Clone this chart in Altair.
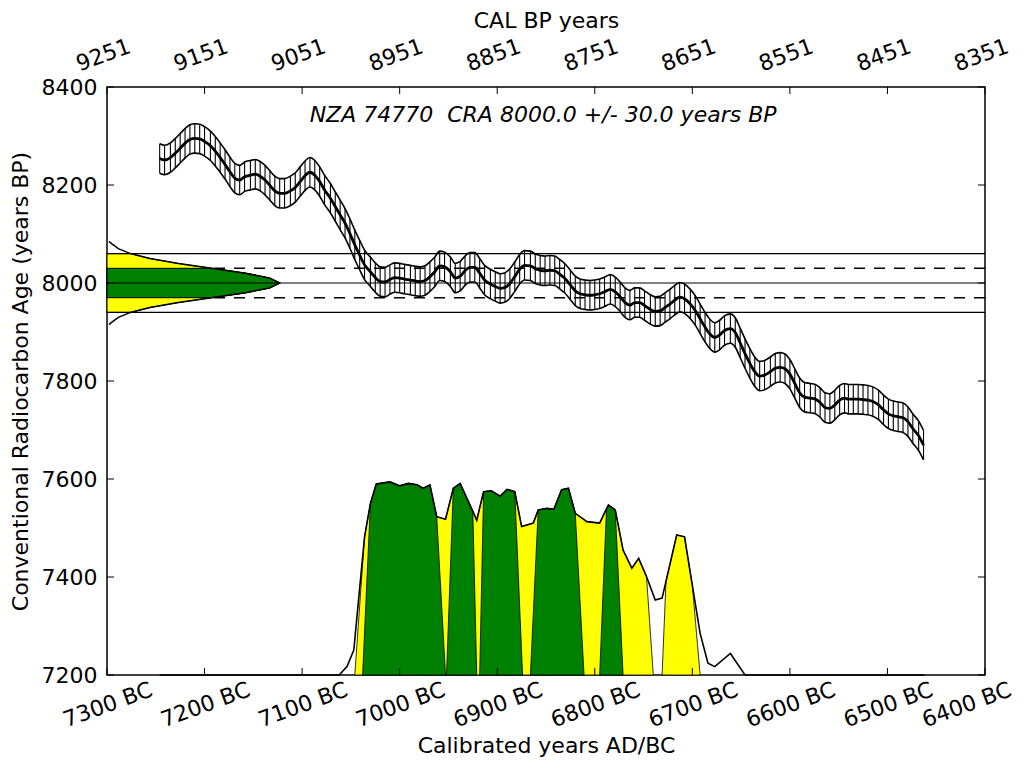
import altair as alt
import pandas as pd

# ---------------- data ----------------
# Calibration curve (centre, years BP) vs calendar year (negative = BC)
curve_year = [-7246, -7241, -7235, -7230, -7225, -7220, -7215, -7210, -7205, -7200,
              -7194, -7189, -7184, -7179, -7174, -7169, -7164, -7159, -7153, -7148,
              -7143, -7138, -7133, -7128, -7123, -7118, -7112, -7107, -7102, -7097,
              -7092, -7087, -7082, -7077, -7071, -7066, -7061, -7056, -7051, -7046,
              -7041, -7036, -7030, -7025, -7020, -7015, -7010, -7005, -7000, -6995,
              -6989, -6984, -6979, -6974, -6969, -6964, -6959, -6954, -6948, -6943,
              -6938, -6933, -6928, -6923, -6918, -6913, -6907, -6902, -6897, -6892,
              -6887, -6882, -6877, -6872, -6866, -6861, -6856, -6851, -6846, -6841,
              -6836, -6831, -6825, -6820, -6815, -6810, -6805, -6800, -6795, -6790,
              -6784, -6779, -6774, -6769, -6764, -6759, -6754, -6749, -6743, -6738,
              -6733, -6728, -6723, -6718, -6713, -6708, -6702, -6697, -6692, -6687,
              -6682, -6677, -6672, -6667, -6661, -6656, -6651, -6646, -6641, -6636,
              -6631, -6626, -6620, -6615, -6610, -6605, -6600, -6595, -6590, -6585,
              -6579, -6574, -6569, -6564, -6559, -6554, -6549, -6544, -6540, -6535,
              -6530, -6525, -6520, -6515, -6509, -6504, -6499, -6494, -6489, -6484,
              -6479, -6474, -6468, -6463]
curve_bp = [8254, 8251, 8256, 8265, 8275, 8285, 8293, 8295, 8294, 8289,
            8280, 8269, 8256, 8242, 8227, 8214, 8210, 8217, 8220, 8222,
            8218, 8210, 8199, 8188, 8183, 8183, 8188, 8195, 8207, 8219,
            8226, 8220, 8207, 8190, 8173, 8156, 8139, 8122, 8101, 8078,
            8057, 8037, 8023, 8011, 8003, 8002, 8007, 8011, 8010, 8008,
            8006, 8004, 8003, 8005, 8013, 8023, 8035, 8033, 8023, 8010,
            8014, 8025, 8032, 8032, 8020, 8006, 7998, 7993, 7989, 7991,
            7999, 8013, 8028, 8036, 8035, 8029, 8026, 8025, 8026, 8025,
            8018, 8010, 7996, 7984, 7978, 7976, 7975, 7976, 7978, 7982,
            7987, 7982, 7972, 7960, 7955, 7960, 7960, 7954, 7946, 7942,
            7943, 7950, 7957, 7965, 7971, 7968, 7957, 7944, 7927, 7910,
            7896, 7889, 7894, 7903, 7907, 7899, 7878, 7856, 7836, 7819,
            7810, 7812, 7819, 7826, 7828, 7825, 7814, 7795, 7776, 7767,
            7765, 7763, 7756, 7746, 7744, 7751, 7761, 7765, 7763, 7763,
            7763, 7762, 7761, 7758, 7751, 7741, 7733, 7729, 7727, 7725,
            7717, 7703, 7688, 7669]
curve_err = 30

# Calibrated probability outline (top edge, drawn in years-BP units above 7200)
dist_year = [-7246, -7062, -7054, -7047, -7036, -7030, -7024, -7010, -7000, -6991,
             -6982, -6976, -6969, -6962, -6953, -6945, -6938, -6925, -6921, -6914,
             -6906, -6897, -6890, -6882, -6875, -6863, -6858, -6849, -6842, -6834,
             -6827, -6820, -6808, -6795, -6788, -6786, -6779, -6771, -6762, -6755,
             -6747, -6738, -6731, -6727, -6716, -6708, -6700, -6692, -6684, -6677,
             -6661, -6646, -6462]
dist_bp = [7200, 7200, 7217, 7251, 7482, 7550, 7590, 7594, 7586, 7591,
           7588, 7581, 7588, 7523, 7518, 7581, 7591, 7534, 7516, 7574,
           7576, 7565, 7579, 7574, 7503, 7510, 7537, 7540, 7538, 7578,
           7581, 7530, 7513, 7510, 7539, 7547, 7537, 7455, 7418, 7438,
           7401, 7353, 7357, 7391, 7486, 7482, 7383, 7285, 7224, 7217,
           7244, 7200, 7200]

# ranges: (base left, top left, top right, base right)
sigma2_ranges = [(-7046, -7036, -6747, -6740), (-6731, -6727, -6700, -6692)]
sigma1_ranges = [(-7038, -7030, -6962, -6953), (-6952, -6945, -6925, -6921),
                 (-6918, -6914, -6882, -6874), (-6866, -6858, -6820, -6811),
                 (-6795, -6788, -6779, -6771)]

# Measured radiocarbon age distribution (left side): offset from CRA, width in years
cra = 8000
cra_err = 30
gauss_offset = [-85, -80, -70, -60, -50, -40, -30, -20, -10, 0, 10, 20, 30, 40, 50, 60, 70, 80, 85]
gauss_width = [2, 5, 11.6, 24, 44, 73, 107, 142, 167, 177, 167, 142, 107, 73, 44, 24, 11.6, 5, 2]

x_ticks = [-7300, -7200, -7100, -7000, -6900, -6800, -6700, -6600, -6500, -6400]
y_ticks = [7200, 7400, 7600, 7800, 8000, 8200, 8400]
title_text = "NZA 74770\u00a0 CRA 8000.0 +/- 30.0 years BP"

# ---------------- tables ----------------
X0, X1 = -7300, -6400
Y0, Y1 = 7200, 8400
W, H = 878, 588
FONT = "DejaVu Sans"
FS = 22

curve = pd.DataFrame({"year": curve_year, "bp": curve_bp})
curve["hi"] = curve["bp"] + curve_err
curve["lo"] = curve["bp"] - curve_err

dist = pd.DataFrame({"year": dist_year, "bp": dist_bp})

def regions(ranges, name):
    rows = []
    for i, (bl, tl, tr, br) in enumerate(ranges):
        rows.append({"year": bl, "bp": Y0, "r": f"{name}{i}"})
        for yr, v in zip(dist_year, dist_bp):
            if tl <= yr <= tr:
                rows.append({"year": yr, "bp": v, "r": f"{name}{i}"})
        rows.append({"year": br, "bp": Y0, "r": f"{name}{i}"})
    df = pd.DataFrame(rows)
    df["base"] = Y0
    return df

yellow_df = regions(sigma2_ranges, "y")
green_df = regions(sigma1_ranges, "g")

gauss = pd.DataFrame({"bp": [cra + o for o in gauss_offset],
                      "xw": [X0 + w for w in gauss_width],
                      "off": gauss_offset})
gauss["base"] = X0

xs = alt.Scale(domain=[X0, X1], nice=False, zero=False)
ys = alt.Scale(domain=[Y0, Y1], nice=False, zero=False)

y_axis = alt.Axis(values=y_ticks, format="d", title="Conventional Radiocarbon Age (years BP)",
                  labelPadding=10, titleX=-87, titleBaseline="middle")

def X(field, **kw):
    return alt.X(field, type="quantitative", scale=xs, axis=None, **kw)

def Yf(field, **kw):
    return alt.Y(field, type="quantitative", scale=ys, axis=y_axis, stack=None, **kw)

# axis carriers
bottom_axis = alt.Chart(pd.DataFrame({"year": [X0, X1], "bp": [Y0, Y0]})).mark_point(opacity=0).encode(
    x=alt.X("year:Q", scale=xs, axis=alt.Axis(
        values=x_ticks, labelExpr="format(-datum.value, 'd') + ' BC'",
        title="Calibrated years AD/BC", orient="bottom", labelAngle=340,
        labelAlign="center", labelBaseline="top", labelPadding=20,
        labelOverlap=False, labelFlush=False,
        labelOffset={"condition": {"test": "datum.value == -6400", "value": -22}, "value": -3},
        titleY=70, titleBaseline="middle")),
    y=Yf("bp:Q"),
)
top_axis = alt.Chart(pd.DataFrame({"year": [X0, X1], "bp": [Y1, Y1]})).mark_point(opacity=0).encode(
    x=alt.X("year:Q", scale=xs, axis=alt.Axis(
        values=x_ticks, labelExpr="format(1951 - datum.value, 'd')",
        title="CAL BP years", orient="top", labelAngle=340,
        labelAlign="center", labelBaseline="bottom", labelPadding=21,
        labelOverlap=False, labelFlush=False,
        titleY=-67, titleBaseline="middle")),
    y=Yf("bp:Q"),
)

dashed = alt.Chart(pd.DataFrame({"bp": [cra + cra_err, cra - cra_err]})).mark_rule(
    color="black", strokeWidth=1.5, strokeDash=[11, 9]).encode(y=Yf("bp:Q"))
solid = alt.Chart(pd.DataFrame({"bp": [cra + 2 * cra_err, cra, cra - 2 * cra_err]})).mark_rule(
    color="black", strokeWidth=1.2).encode(y=Yf("bp:Q"))

g_yellow = alt.Chart(gauss[gauss["off"].abs() <= 2 * cra_err]).mark_area(
    orient="horizontal", fill="#ffff00", stroke="black", strokeWidth=1).encode(
    y=Yf("bp:Q"), x=X("xw:Q"), x2="base:Q")
g_green = alt.Chart(gauss[gauss["off"].abs() <= cra_err]).mark_area(
    orient="horizontal", fill="#008000", stroke="black", strokeWidth=1).encode(
    y=Yf("bp:Q"), x=X("xw:Q"), x2="base:Q")
g_line = alt.Chart(gauss).mark_line(color="black", strokeWidth=1.5).encode(
    y=Yf("bp:Q"), x=X("xw:Q"), order="bp:Q")

d_yellow = alt.Chart(yellow_df).mark_area(fill="#ffff00", stroke="black", strokeWidth=0.8).encode(
    x=X("year:Q"), y=Yf("bp:Q"), y2="base:Q", detail="r:N")
d_green = alt.Chart(green_df).mark_area(fill="#008000", stroke="black", strokeWidth=0.8).encode(
    x=X("year:Q"), y=Yf("bp:Q"), y2="base:Q", detail="r:N")
d_line = alt.Chart(dist).mark_line(color="black", strokeWidth=1.6).encode(
    x=X("year:Q"), y=Yf("bp:Q"))

hatch = alt.Chart(curve).mark_rule(color="black", strokeWidth=1.1).encode(
    x=X("year:Q"), y=Yf("lo:Q"), y2="hi:Q")
c_hi = alt.Chart(curve).mark_line(color="black", strokeWidth=1.6, interpolate="monotone").encode(
    x=X("year:Q"), y=Yf("hi:Q"))
c_lo = alt.Chart(curve).mark_line(color="black", strokeWidth=1.6, interpolate="monotone").encode(
    x=X("year:Q"), y=Yf("lo:Q"))
c_mid = alt.Chart(curve).mark_line(color="black", strokeWidth=2.8, interpolate="monotone").encode(
    x=X("year:Q"), y=Yf("bp:Q"))

title = alt.Chart(pd.DataFrame({"t": [title_text], "year": [-6853], "bp": [8343]})).mark_text(
    font=FONT, fontSize=FS, fontStyle="italic", color="black").encode(
    x=X("year:Q"), y=Yf("bp:Q"), text="t:N")

# inward tick marks on all four sides
tx = pd.DataFrame({"v": x_ticks})
ty = pd.DataFrame({"v": y_ticks})
tick_b = alt.Chart(tx).mark_rule(color="black", strokeWidth=1).encode(x=X("v:Q"), y=alt.value(H), y2=alt.value(H - 7))
tick_t = alt.Chart(tx).mark_rule(color="black", strokeWidth=1).encode(x=X("v:Q"), y=alt.value(0), y2=alt.value(7))
tick_l = alt.Chart(ty).mark_rule(color="black", strokeWidth=1).encode(y=Yf("v:Q"), x=alt.value(0), x2=alt.value(7))
tick_r = alt.Chart(ty).mark_rule(color="black", strokeWidth=1).encode(y=Yf("v:Q"), x=alt.value(W), x2=alt.value(W - 7))

chart = alt.layer(
    bottom_axis, top_axis, dashed, g_yellow, g_green, g_line, solid,
    d_yellow, d_green, d_line, hatch, c_hi, c_lo, c_mid, title,
    tick_b, tick_t, tick_l, tick_r,
).resolve_axis(x="independent").properties(
    width=W, height=H,
    background="white",
    autosize=alt.AutoSizeParams(type="none"),
    padding={"left": 99, "top": 79, "right": 34, "bottom": 85},
).configure_view(stroke="black", strokeWidth=1.5).configure_axis(
    labelFont=FONT, titleFont=FONT, labelFontSize=FS, titleFontSize=FS,
    labelColor="black", titleColor="black", titleFontWeight="normal",
    tickSize=0, domain=False, grid=False,
)

chart.save("out.html", embed_options={"renderer": "svg", "actions": False})
